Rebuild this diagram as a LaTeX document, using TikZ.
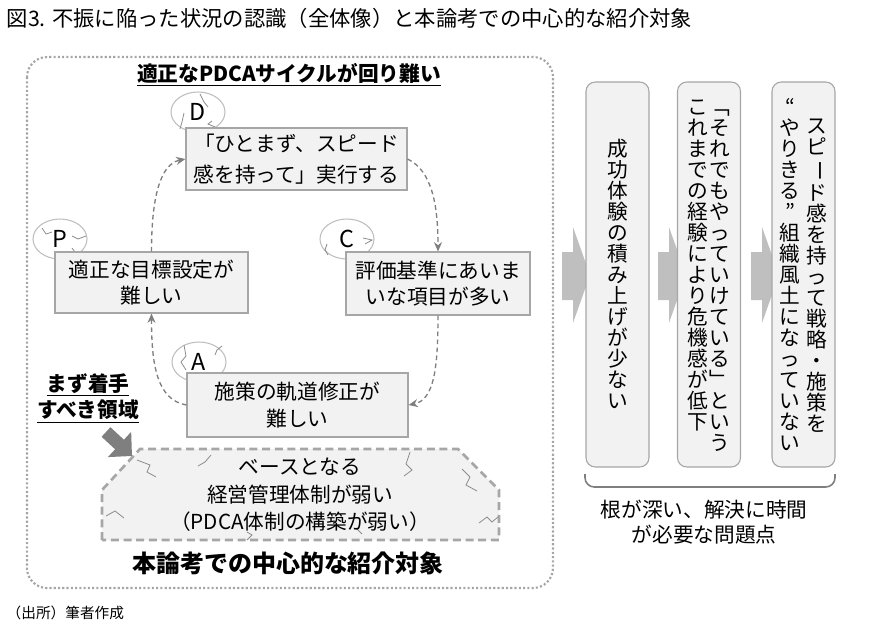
\documentclass[tikz,border=0pt]{standalone}
\usepackage{fontspec}
\usepackage{graphicx}
\setmainfont{Noto Sans CJK JP}
\usetikzlibrary{shapes.geometric,arrows.meta}
\definecolor{boxfill}{HTML}{F2F2F2}
\definecolor{boxline}{HTML}{A6A6A6}
\definecolor{circline}{HTML}{BFBFBF}
\definecolor{arrowgray}{HTML}{7F7F7F}
\definecolor{chevgray}{HTML}{BFBFBF}
\definecolor{crackgray}{HTML}{8C8C8C}
% vertical (tategaki) columns, one character per cell
\newcommand\tatebar{\rotatebox[origin=c]{-90}{ー}}
\def\tatenext#1{\ifx\relax#1\else\hbox to 15.75pt{\hss\vrule width0pt height13.8pt depth1.95pt\relax#1\hss}\expandafter\tatenext\fi}
\newcommand\tatetop[1]{\vtop{\offinterlineskip\tatenext#1\relax}}
\newcommand\tatemid[1]{$\vcenter{\offinterlineskip\tatenext#1\relax}$}
\begin{document}
\begin{tikzpicture}[x=0.75pt,y=-0.75pt,
  body/.style={font=\fontsize{15.5}{20}\selectfont},
  stepbox/.style={draw=boxline,fill=boxfill,line width=0.8pt,body,align=center,inner sep=0pt},
  phase/.style={ellipse,draw=circline,fill=white,line width=0.8pt,minimum width=40.5pt,minimum height=30pt,inner sep=0pt,font=\fontsize{17.5}{20}\selectfont},
  crack/.style={draw=crackgray,line width=0.6pt},
  cycarrow/.style={draw=arrowgray,line width=1pt,dash pattern=on 3.5pt off 2.5pt,-{Stealth[length=7pt,width=6pt]}},
  tatebox/.style={draw=boxline,fill=boxfill,line width=0.8pt,rounded corners=7pt,minimum width=47.25pt,minimum height=288.75pt,inner sep=0pt,font=\fontsize{15.5}{18}\selectfont},
  ]
\useasboundingbox (0,0) rectangle (872,626);
% title
\node[anchor=west,font=\fontsize{16}{20}\selectfont] (title) at (2,18) {図3. 不振に陥った状況の認識（全体像）と本論考での中心的な紹介対象};
% left frame
\draw[boxline,line width=1.6pt,dash pattern=on 1.6pt off 1.6pt,rounded corners=15pt] (27,57) rectangle (553,588);
\node[font=\bfseries\fontsize{15.5}{20}\selectfont] (cycle) at (289,75) {\underline{適正なPDCAサイクルが回り難い}};

% phases
\node[phase] (dc) at (198,112) {D};
\node[phase] (pc) at (60,239) {P};
\node[phase] (cc) at (347,239) {C};
\node[phase] (ac) at (199,362) {A};
\draw[crack] (200,94) -- (204,102) -- (208,107);
\draw[crack] (184,113) -- (182,122) -- (180,129);
\draw[crack] (212,121) -- (208,124) -- (215,127);
\draw[crack] (42,228) -- (46,234) -- (52,232);
\draw[crack] (72,248) -- (75,252) -- (73,256);
\draw[crack] (72,236) -- (78,239) -- (86,236);
\draw[crack] (327,244) -- (325,250) -- (328,255);
\draw[crack] (363,238) -- (372,240) -- (365,244);
\draw[crack] (184,345) -- (186,356) -- (181,362) -- (186,370);
\draw[crack] (215,355) -- (217,350) -- (222,346);

\node[stepbox,minimum width=165.75pt,minimum height=46.5pt,font=\fontsize{15.5}{23}\selectfont] (dbox) at (296.5,159) {「ひとまず、スピード\\感を持って」実行する};
\node[stepbox,minimum width=144.75pt,minimum height=45.75pt] (pbox) at (151.5,282.5) {適正な目標設定が\\難しい};
\node[stepbox,minimum width=138pt,minimum height=47.25pt] (cbox) at (438,283.5) {評価基準にあいま\\いな項目が多い};
\node[stepbox,minimum width=165.75pt,minimum height=48pt] (abox) at (297.5,405) {施策の軌道修正が\\難しい};

\draw[cycarrow] (pbox.north) .. controls +(0,-55) and +(-25,5) .. (dbox.west);
\draw[cycarrow] (dbox.east) .. controls +(25,12) and +(0,-45) .. (cbox.north);
\draw[cycarrow] (cbox.south) .. controls +(0,55) and +(25,-5) .. (abox.east);
\draw[cycarrow] (abox.west) .. controls +(-30,-5) and +(0,50) .. (pbox.south);

% base
\draw[boxline,fill=boxfill,line width=2pt,dash pattern=on 6pt off 3.5pt] (102,540) -- (102,490) -- (140,449) -- (458,449) -- (499,490) -- (499,540) -- cycle;
\draw[crack] (137,460) -- (150,465) -- (147,472) -- (156,477);
\draw[crack] (198,466) -- (205,462) -- (211,455);
\draw[crack] (410,452) -- (406,464) -- (412,470) -- (404,476);
\draw[crack] (462,469) -- (470,477) -- (466,485) -- (477,491);
\draw[crack] (106,516) -- (115,511) -- (124,518);
\draw[crack] (479,523) -- (487,517) -- (492,522) -- (498,517);
\draw[crack] (247,540) -- (252,535) -- (247,532);
\draw[crack] (356,528) -- (362,534);
\node[align=center,font=\fontsize{15.5}{20.5}\selectfont] (base) at (300,495) {ベースとなる\\経営管理体制が弱い\\（PDCA体制の構築が弱い）};

\node[align=center,font=\bfseries\fontsize{15.5}{20}\selectfont] (focus) at (88,398) {\underline{まず着手}\\\underline{すべき領域}};
\coordinate (arrstart) at (106,432);
\coordinate (basecorner) at (132,456);
\draw[arrowgray,line width=9.75pt,-{Triangle[length=12.75pt,width=25pt]}] (arrstart) -- (basecorner);

\node[font=\bfseries\fontsize{18}{20}\selectfont] (target) at (288,563) {本論考での中心的な紹介対象};
\node[anchor=west,font=\fontsize{11}{13}\selectfont] (source) at (2,613) {（出所）筆者作成};

% right side
\foreach \xa in {562,658,751}
  \fill[chevgray] (\xa,252) -- (\xa+11,252) -- (\xa+11,227) -- (\xa+28,275) -- (\xa+11,323) -- (\xa+11,300) -- (\xa,300) -- cycle;

\node[tatebox] (why1) at (617.5,274.5) {\tatemid{成功体験の積み上げが少ない}};
\node[tatebox] (why2) at (709,274.5) {\tatetop{これまでの経験により危機感が低下}\kern0.75pt\tatetop{﹁それでもやっていけている﹂という}};
\node[tatebox] (why3) at (803.5,274.5) {\tatemid{“やりきる”組織風土になっていない}\kern4.5pt\tatemid{スピ\tatebar ド感を持って戦略・施策を}};

\draw[arrowgray,line width=1.2pt,rounded corners=7pt] (585,474) -- (585,487) -- (835,487) -- (835,474);
\node[align=center,font=\fontsize{15.5}{19}\selectfont] (root) at (704,522) {根が深い、解決に時間\\が必要な問題点};
\end{tikzpicture}
\end{document}
